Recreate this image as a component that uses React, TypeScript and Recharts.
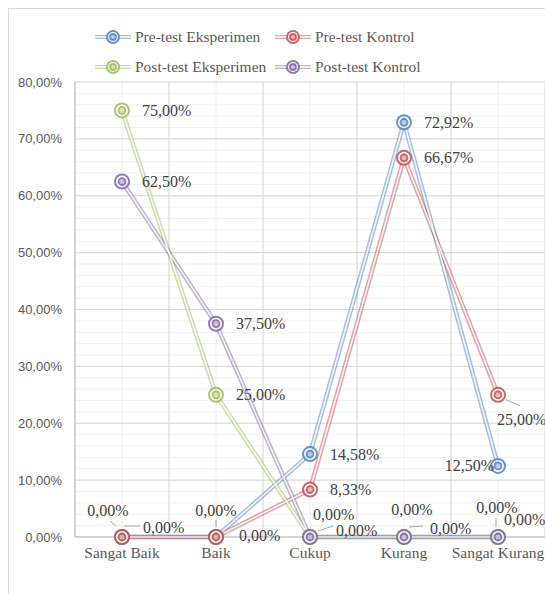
import { LineChart, Line, XAxis, YAxis, CartesianGrid, Legend } from 'recharts'

const categories = ['Sangat Baik', 'Baik', 'Cukup', 'Kurang', 'Sangat Kurang']
const preEksperimen = [0, 0, 14.58, 72.92, 12.5]
const preKontrol = [0, 0, 8.33, 66.67, 25]
const postEksperimen = [75, 25, 0, 0, 0]
const postKontrol = [62.5, 37.5, 0, 0, 0]
const yTicks = [0, 10, 20, 30, 40, 50, 60, 70, 80]

const series = [
  { key: 'preEks', name: 'Pre-test Eksperimen', color: '#4f81bd', values: preEksperimen },
  { key: 'preKon', name: 'Pre-test Kontrol', color: '#c0504d', values: preKontrol },
  { key: 'postEks', name: 'Post-test Eksperimen', color: '#9bbb59', values: postEksperimen },
  { key: 'postKon', name: 'Post-test Kontrol', color: '#8064a2', values: postKontrol },
]

const data = categories.map((name, i) => ({
  i,
  name,
  preEks: preEksperimen[i],
  preKon: preKontrol[i],
  postEks: postEksperimen[i],
  postKon: postKontrol[i],
}))

const SERIF = '"Liberation Serif", "DejaVu Serif", serif'
const fmt = (v: number) => v.toFixed(2).replace('.', ',') + '%'

// manual label placement, like the hand-dragged labels of the original
type Pos = { dx: number; dy: number; anchor: 'start' | 'middle' | 'end'; lead?: number[] }
const R: Pos = { dx: 20, dy: 0, anchor: 'start' }
const placements: Record<string, Pos[]> = {
  preEks: [
    { dx: -14, dy: -27, anchor: 'middle', lead: [-12, -16, -6, -11] },
    { dx: 0, dy: -27, anchor: 'middle', lead: [0, -17, 0, -10] },
    R, R,
    { dx: -4, dy: 0, anchor: 'end' },
  ],
  preKon: [
    { dx: 21, dy: -10, anchor: 'start', lead: [2, -11, 18, -11] },
    { dx: 23, dy: -2, anchor: 'start' },
    R, R,
    { dx: -1, dy: 25, anchor: 'start', lead: [8, 5, 22, 11] },
  ],
  postEks: [
    R, R,
    { dx: 3, dy: -23, anchor: 'start', lead: [8, -6, 23, -11] },
    { dx: 8, dy: -28, anchor: 'middle', lead: [5, -10, 19, -11] },
    { dx: -1, dy: -30, anchor: 'middle', lead: [-2, -19, -2, -10] },
  ],
  postKon: [
    R, R,
    { dx: 26, dy: -7, anchor: 'start' },
    { dx: 26, dy: -9, anchor: 'start' },
    { dx: 6, dy: -18, anchor: 'start' },
  ],
}

function Marker({ cx, cy, color, r = 7 }: any) {
  if (cx == null || cy == null) return null
  return (
    <g>
      <circle cx={cx} cy={cy} r={r} fill="#fff" fillOpacity={0.6} stroke={color} strokeOpacity={0.85} strokeWidth={2} />
      <circle cx={cx} cy={cy} r={r / 2} fill={color} fillOpacity={0.35} stroke={color} strokeOpacity={0.85} strokeWidth={1.8} />
    </g>
  )
}

function DataLabel(props: any) {
  const { x, y, value, index, skey } = props
  const p = placements[skey][index]
  return (
    <g>
      {p.lead && (
        <line x1={x + p.lead[0]} y1={y + p.lead[1]} x2={x + p.lead[2]} y2={y + p.lead[3]} stroke="#a6a6a6" strokeWidth={1} />
      )}
      <text x={x + p.dx} y={y + p.dy} textAnchor={p.anchor} dominantBaseline="central" fill="#404040" fontSize={16} fontFamily={SERIF}>
        {fmt(value)}
      </text>
    </g>
  )
}

function LegendBox() {
  return (
    <div style={{ position: 'relative', width: 520, height: 60 }}>
      {series.map((s, k) => {
        const left = k % 2 === 0 ? 86 : 266
        const top = k < 2 ? 0 : 30
        return (
          <div key={s.key} style={{ position: 'absolute', left, top, height: 30, display: 'flex', alignItems: 'center' }}>
            <svg width={36} height={30}>
              <line x1={0} y1={15} x2={36} y2={15} stroke={s.color} strokeOpacity={0.5} strokeWidth={4} />
              <line x1={0} y1={15} x2={36} y2={15} stroke="#fff" strokeWidth={1.5} />
              <Marker cx={18} cy={15} color={s.color} r={6} />
            </svg>
            <span style={{ marginLeft: 4, fontFamily: SERIF, fontSize: 15.5, color: '#595959', whiteSpace: 'nowrap' }}>{s.name}</span>
          </div>
        )
      })}
    </div>
  )
}

export default function App() {
  return (
    <div style={{ position: 'fixed', left: 0, top: 0, width: 545, height: 594, overflow: 'hidden', background: '#fff' }}>
      <style>{'html,body{margin:0;overflow:hidden}'}</style>
      <div style={{ position: 'absolute', left: 8, top: 8, width: 560, height: 600, border: '1px solid #d9d9d9', background: '#fff' }}>
        <LineChart width={560} height={600} data={data} margin={{ top: 13, right: 24, bottom: 42, left: 0 }}>
          <CartesianGrid
            stroke="#f0f0f0"
            horizontalCoordinatesGenerator={({ offset }: any) => Array.from({ length: 41 }, (_, k) => offset.top + (offset.height * k) / 40)}
            verticalCoordinatesGenerator={({ offset }: any) => Array.from({ length: 11 }, (_, k) => offset.left + (offset.width * k) / 10)}
          />
          <CartesianGrid
            stroke="#d9d9d9"
            horizontalCoordinatesGenerator={({ offset }: any) => Array.from({ length: 9 }, (_, k) => offset.top + (offset.height * k) / 8)}
            verticalCoordinatesGenerator={({ offset }: any) => Array.from({ length: 6 }, (_, k) => offset.left + (offset.width * k) / 5)}
          />
          <Legend verticalAlign="top" content={() => <LegendBox />} />
          <XAxis
            type="number"
            dataKey="i"
            domain={[-0.5, 4.5]}
            ticks={[0, 1, 2, 3, 4]}
            tickFormatter={(v: number) => categories[v]}
            axisLine={{ stroke: '#bfbfbf' }}
            tickLine={false}
            tickSize={0}
            tickMargin={10}
            height={30}
            interval={0}
            tick={{ fill: '#595959', fontSize: 15.5, fontFamily: SERIF }}
          />
          <YAxis
            domain={[0, 80]}
            ticks={yTicks}
            tickFormatter={fmt}
            width={66}
            axisLine={{ stroke: '#bfbfbf' }}
            tickLine={false}
            tickSize={0}
            tickMargin={13}
            tick={{ fill: '#595959', fontSize: 13, fontFamily: '"Liberation Sans", Arial, sans-serif' }}
          />
          {series.map((s) => (
            <Line key={s.key + '-o'} dataKey={s.key} stroke={s.color} strokeOpacity={0.5} strokeWidth={4.5} dot={false} activeDot={false} legendType="none" isAnimationActive={false} />
          ))}
          {series.map((s) => (
            <Line key={s.key + '-i'} dataKey={s.key} stroke="#fff" strokeOpacity={0.85} strokeWidth={1.6} dot={false} activeDot={false} legendType="none" isAnimationActive={false} />
          ))}
          {series.map((s) => (
            <Line
              key={s.key + '-d'}
              dataKey={s.key}
              name={s.name}
              stroke="none"
              dot={(p: any) => <Marker key={p.index} cx={p.cx} cy={p.cy} color={s.color} />}
              activeDot={false}
              label={(p: any) => <DataLabel key={p.index} {...p} skey={s.key} />}
              isAnimationActive={false}
            />
          ))}
        </LineChart>
      </div>
    </div>
  )
}
